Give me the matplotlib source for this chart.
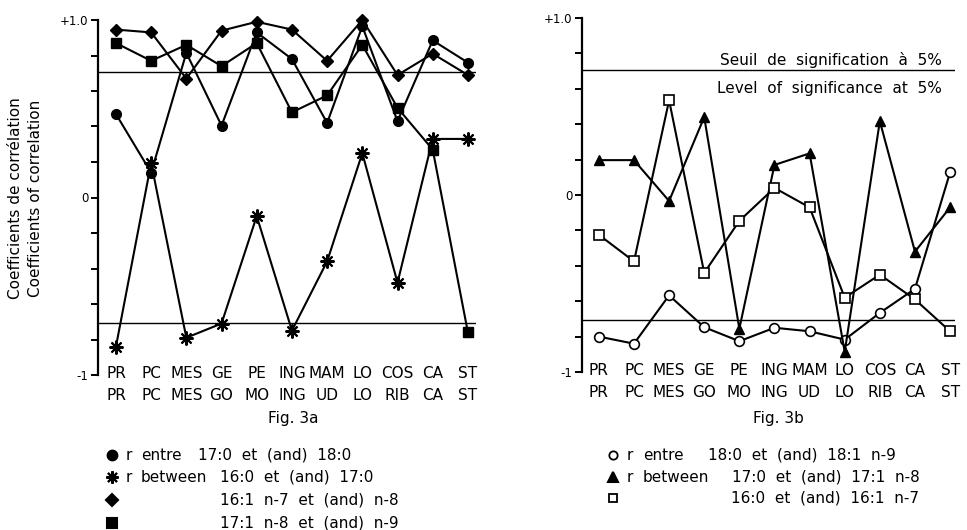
import matplotlib
matplotlib.use("Agg")
import matplotlib.pyplot as plt
from matplotlib.lines import Line2D

plt.rcParams['font.family'] = ['DejaVu Sans']

# categories (two-line labels)
top_a = ["PR", "PC", "MES", "GE", "PE", "ING", "MAM", "LO", "COS", "CA", "ST"]
bot_a = ["PR", "PC", "MES", "GO", "MO", "ING", "UD", "LO", "RIB", "CA", "ST"]

# Fig. 3a
r_17_18 = [0.47, 0.14, 0.815, 0.405, 0.93, 0.78, 0.42, 0.965, 0.43, 0.885, 0.76]
r_16_17 = [-0.84, 0.195, -0.79, -0.71, -0.105, -0.75, -0.36, 0.25, -0.48, 0.33, 0.33]
r_161 = [0.946, 0.93, 0.67, 0.94, 0.99, 0.946, 0.77, 1.0, 0.69, 0.81, 0.69]
r_171 = [0.87, 0.77, 0.86, 0.74, 0.87, 0.48, 0.575, 0.86, 0.505, 0.27, -0.76]

# Fig. 3b
r_18_181 = [-0.80, -0.84, -0.567, -0.747, -0.826, -0.75, -0.77, -0.817, -0.666, -0.53, 0.128]
r_17_171 = [0.197, 0.197, -0.034, 0.44, -0.755, 0.17, 0.235, -0.886, 0.417, -0.32, -0.07]
r_16_161 = [-0.225, -0.375, 0.535, -0.44, -0.146, 0.04, -0.07, -0.58, -0.45, -0.59, -0.77]

signif = 0.705

W, H = 967, 530
fig = plt.figure(figsize=(W / 100, H / 100), dpi=100)

def px(x, y):
    return x / W, 1 - y / H

ax1 = fig.add_axes([98 / W, 1 - 375 / H, (476 - 98) / W, 355 / H])
ax2 = fig.add_axes([582 / W, 1 - 372 / H, (955 - 582) / W, 354 / H])

lw = 1.5
star = (8, 2, 0)

def style(ax, xl):
    ax.set_ylim(-1, 1)
    ax.set_xlim(*xl)
    for s in ["top", "right", "bottom"]:
        ax.spines[s].set_visible(False)
    ax.spines["left"].set_linewidth(1.6)
    ticks = [-1 + 0.2 * i for i in range(11)]
    ax.set_yticks(ticks)
    labs = [""] * 11
    labs[0], labs[5], labs[10] = "-1", "0", "+1.0"
    ax.set_yticklabels(labs, fontsize=8.5)
    ax.tick_params(axis="y", direction="out", length=5, width=1.4, pad=2)
    ax.set_xticks([])
    ax.axhline(signif, color="black", lw=1.0)
    ax.axhline(-signif, color="black", lw=1.0)
    for i, (a, b) in enumerate(zip(top_a, bot_a)):
        ax.text(i, -0.99, a, ha="center", va="center", fontsize=11, clip_on=False)
        ax.text(i, -1.115, b, ha="center", va="center", fontsize=11, clip_on=False)

x = list(range(len(top_a)))
style(ax1, (-0.51, 10.23))
style(ax2, (-0.48, 10.14))

kw = dict(color="black", lw=lw, clip_on=False)
ax1.plot(x, r_17_18, marker="o", ms=7, **kw)
ax1.plot(x, r_16_17, marker=star, ms=10, mew=1.5, **kw)
ax1.plot(x, r_161, marker="D", ms=6.5, **kw)
ax1.plot(x, r_171, marker="s", ms=7, **kw)

ax2.plot(x, r_18_181, marker="o", ms=7, mfc="white", mew=1.2, **kw)
ax2.plot(x, r_17_171, marker="^", ms=7.5, **kw)
ax2.plot(x, r_16_161, marker="s", ms=7, mfc="white", mew=1.2, **kw)

ax2.text(0.965, 0.881, "Seuil  de  signification  à  5%", transform=ax2.transAxes,
         fontsize=11, ha="right", va="center")
ax2.text(0.965, 0.802, "Level  of  significance  at  5%", transform=ax2.transAxes,
         fontsize=11, ha="right", va="center")

fig.text(*px(16, 198), "Coefficients de corrélation", rotation=90,
         ha="center", va="center", fontsize=11)
fig.text(*px(36, 198), "Coefficients of correlation", rotation=90,
         ha="center", va="center", fontsize=11)

fig.text(*px(293, 418), "Fig. 3a", ha="center", va="center", fontsize=11)
fig.text(*px(778, 418), "Fig. 3b", ha="center", va="center", fontsize=11)

def legend_row(xm, y, marker, ms, filled, words, rest, xr, xw, xrest):
    fx, fy = px(xm, y)
    fig.add_artist(Line2D([fx], [fy], marker=marker, ms=ms, color="black",
                          mfc="black" if filled else "white", mew=1.3 if not filled else 1.5,
                          transform=fig.transFigure))
    if words:
        fig.text(*px(xr, y), "r", ha="left", va="center", fontsize=11)
        fig.text(*px(xw, y), words, ha="left", va="center", fontsize=11)
    fig.text(*px(xrest, y), rest, ha="left", va="center", fontsize=11)

legend_row(112, 455, "o", 7, True, "entre", "17:0  et  (and)  18:0", 126, 141, 198)
legend_row(112, 477, star, 9, True, "between", "16:0  et  (and)  17:0", 126, 141, 220)
legend_row(112, 500, "D", 6, True, "", "16:1  n-7  et  (and)  n-8", 126, 141, 220)
legend_row(112, 523, "s", 6.5, True, "", "17:1  n-8  et  (and)  n-9", 126, 141, 220)

legend_row(613, 455, "o", 6, False, "entre", "18:0  et  (and)  18:1  n-9", 627, 643, 708)
legend_row(613, 477, "^", 7, True, "between", "17:0  et  (and)  17:1  n-8", 627, 643, 732)
legend_row(613, 498, "s", 6, False, "", "16:0  et  (and)  16:1  n-7", 627, 643, 731)

fig.savefig("out.png", dpi=100)
